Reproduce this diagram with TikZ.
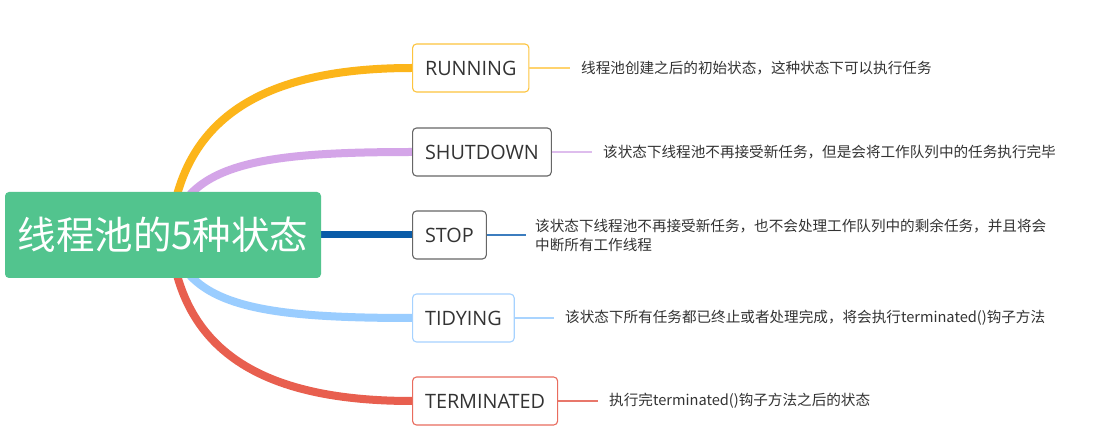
\documentclass[tikz,border=0pt]{standalone}
\usepackage{fontspec}
\setmainfont{Noto Sans CJK SC}
\newfontfamily\labfont{Open Sans}
\usetikzlibrary{calc,backgrounds}
\definecolor{rootgreen}{HTML}{52C48E}
\definecolor{brorange}{HTML}{FCB51A}
\definecolor{brpurple}{HTML}{D4A5E8}
\definecolor{brblue}{HTML}{0A5CA8}
\definecolor{brlight}{HTML}{9ACDFF}
\definecolor{brred}{HTML}{E85F4F}
\definecolor{txt}{HTML}{333333}
\definecolor{boxgray}{HTML}{666666}
\definecolor{boxorange}{HTML}{FDC43E}
\definecolor{boxblue}{HTML}{A6D2FF}
\definecolor{boxred}{HTML}{E96C5E}
\definecolor{lforange}{HTML}{FFD36E}
\definecolor{lfpurple}{HTML}{DEBDED}
\definecolor{lfblue}{HTML}{3C7DBF}
\definecolor{lflight}{HTML}{A9D4FF}
\definecolor{lfred}{HTML}{E8776B}
\tikzset{
  rootbox/.style={fill=rootgreen, rounded corners=4pt, minimum width=316pt, minimum height=86pt,
    text=white, font=\fontsize{38.5}{44}\selectfont, inner sep=0pt},
  statebox/.style={draw=#1, line width=1.1pt, fill=white, rounded corners=4pt, minimum height=48pt,
    inner xsep=12.5pt, anchor=west, text=txt, font=\labfont\fontsize{19.8}{22}\selectfont},
  desc/.style={anchor=west, inner sep=0pt, text=txt, align=left, font=\fontsize{14.6}{19}\selectfont},
  branch/.style={draw=#1, line width=8pt},
  leaf/.style={draw=#1, line width=1.1pt},
}
% #1 start, #2 target node, #3 colour, #4 first control offset, #5 second control x offset
\newcommand{\curveto}[5]{%
  \draw[branch=#3] (#1) .. controls ($(#1)+(#4)$) and ($(#2.west)+(#5,0)$) .. (#2.west);}
\begin{document}
\begin{tikzpicture}[x=1pt,y=-1pt]
\useasboundingbox (0,0) rectangle (1106,446);
\node[rootbox] (root) at (163,235) {线程池的5种状态};
\coordinate (hub) at (170,235);
\node[statebox=boxorange] (run) at (412,68) {RUNNING};
\node[statebox=boxgray] (shut) at (412,152) {SHUTDOWN};
\node[statebox=boxgray] (stop) at (412,235) {STOP};
\node[statebox=boxblue] (tidy) at (412,318) {TIDYING};
\node[statebox=boxred] (term) at (412,401) {TERMINATED};
\begin{scope}[on background layer]
\fill[white] (0,0) rectangle (1106,446);
\curveto{hub}{run}{brorange}{10,-115}{-152}
\curveto{hub}{shut}{brpurple}{15,-70}{-157}
\curveto{hub}{tidy}{brlight}{15,70}{-157}
\curveto{hub}{term}{brred}{10,115}{-152}
\draw[branch=brblue, line width=7pt] (root.east) -- (stop.west);
\end{scope}
\node[desc] (drun) at (581,68) {线程池创建之后的初始状态，这种状态下可以执行任务};
\node[desc] (dshut) at (603,152) {该状态下线程池不再接受新任务，但是会将工作队列中的任务执行完毕};
\node[desc] (dstop) at (535,235) {该状态下线程池不再接受新任务，也不会处理工作队列中的剩余任务，并且将会\\中断所有工作线程};
\node[desc] (dtidy) at (565,318) {该状态下所有任务都已终止或者处理完成，将会执行terminated()钩子方法};
\node[desc] (dterm) at (609,401) {执行完terminated()钩子方法之后的状态};
\draw[leaf=lforange] (run.east) -- ([xshift=-11pt]drun.west);
\draw[leaf=lfpurple] (shut.east) -- ([xshift=-11pt]dshut.west);
\draw[leaf=lfblue] (stop.east) -- ([xshift=-9pt]dstop.west);
\draw[leaf=lflight] (tidy.east) -- ([xshift=-11pt]dtidy.west);
\draw[leaf=lfred] (term.east) -- ([xshift=-11pt]dterm.west);
\end{tikzpicture}
\end{document}
